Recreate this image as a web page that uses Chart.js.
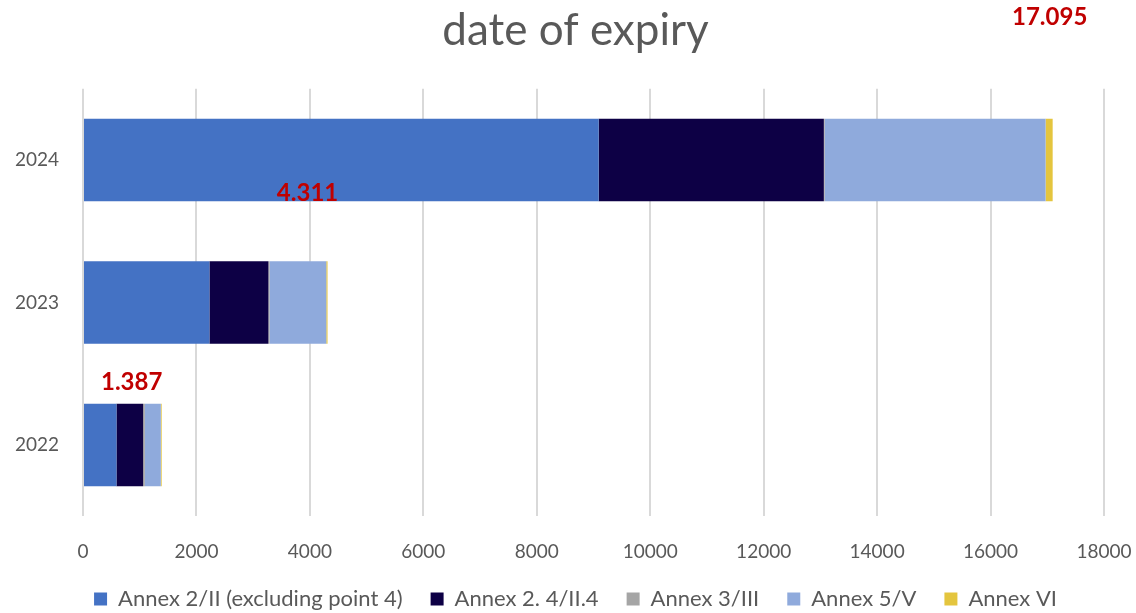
<!DOCTYPE html>
<html>
<head>
<meta charset="utf-8">
<script src="https://cdn.jsdelivr.net/npm/chart.js@4"></script>
<style>
  html, body { margin: 0; padding: 0; background: #fff; }
  #wrap { width: 1136px; height: 613px; position: relative; }
</style>
</head>
<body>
<div id="wrap"><canvas id="expiry-chart"></canvas></div>
<script>
const years = ['2024', '2023', '2022'];
const annex2 = [9091, 2229, 590];
const annex24 = [3970, 1040, 470];
const annex3 = [15, 20, 30];
const annex5 = [3894, 1000, 282];
const annex6 = [125, 22, 15];
const totalLabels = ['17.095', '4.311', '1.387'];
const xTicks = [0, 2000, 4000, 6000, 8000, 10000, 12000, 14000, 16000, 18000];

const fontFamily = 'Lato, "Open Sans", sans-serif';
const grey = '#595959';

// red totals, placed like the loose text boxes in the original
const totalsPlugin = {
  id: 'totals',
  afterDatasetsDraw(chart) {
    const { ctx, scales } = chart;
    const totals = years.map((_, i) => annex2[i] + annex24[i] + annex3[i] + annex5[i] + annex6[i]);
    // offsets relative to each bar's end / centre, in pixels
    const offsets = [
      { dx: -3, dy: -143 },
      { dx: -20, dy: -109 },
      { dx: -30, dy: -63 },
    ];
    ctx.save();
    ctx.fillStyle = '#c00000';
    ctx.font = 'bold 24px ' + fontFamily;
    ctx.textAlign = 'center';
    ctx.textBaseline = 'middle';
    totals.forEach((t, i) => {
      const x = scales.x.getPixelForValue(t) + offsets[i].dx;
      const y = scales.y.getPixelForValue(i) + offsets[i].dy;
      ctx.fillText(totalLabels[i], x, y);
    });
    ctx.restore();
  },
};

const ctx = document.getElementById('expiry-chart').getContext('2d');

const config = {
  type: 'bar',
  data: {
    labels: years,
    datasets: [
      { label: 'Annex 2/II (excluding point 4)', data: annex2, backgroundColor: '#4472c4' },
      { label: 'Annex 2. 4/II.4', data: annex24, backgroundColor: '#0d0045' },
      { label: 'Annex 3/III', data: annex3, backgroundColor: '#a5a5a5' },
      { label: 'Annex 5/V', data: annex5, backgroundColor: '#8faadc' },
      { label: 'Annex VI', data: annex6, backgroundColor: '#e4c53e' },
    ],
  },
  options: {
    indexAxis: 'y',
    responsive: true,
    maintainAspectRatio: false,
    animation: false,
    layout: {
      padding: { left: 15, right: 0, top: 0, bottom: -7 },
    },
    datasets: {
      bar: {
        categoryPercentage: 1,
        barPercentage: 0.58,
        borderWidth: 0,
      },
    },
    plugins: {
      title: {
        display: true,
        text: 'date of expiry',
        color: grey,
        font: { size: 44, family: fontFamily, weight: 'normal' },
        padding: { top: 4, bottom: 32 },
      },
      legend: {
        position: 'bottom',
        labels: {
          color: grey,
          font: { size: 22, family: fontFamily },
          boxWidth: 13,
          boxHeight: 13,
          padding: 28,
        },
      },
      tooltip: { enabled: false },
    },
    scales: {
      x: {
        stacked: true,
        min: 0,
        max: 18000,
        afterBuildTicks: (axis) => {
          axis.ticks = xTicks.map((v) => ({ value: v }));
        },
        afterFit: (axis) => {
          axis.height -= 27;
          axis.paddingRight = 32;
        },
        ticks: {
          color: grey,
          font: { size: 19, family: fontFamily },
          padding: 24,
          callback: (value) => String(value),
        },
        grid: {
          color: '#d9d9d9',
          lineWidth: 2,
          drawTicks: false,
        },
        border: { display: false },
      },
      y: {
        stacked: true,
        afterFit: (axis) => {
          axis.width = 68;
        },
        ticks: {
          color: grey,
          font: { size: 19, family: fontFamily },
          padding: 24,
        },
        grid: { display: false, drawTicks: false },
        border: { display: false },
      },
    },
  },
  plugins: [totalsPlugin],
};

new Chart(ctx, config);
</script>
</body>
</html>
